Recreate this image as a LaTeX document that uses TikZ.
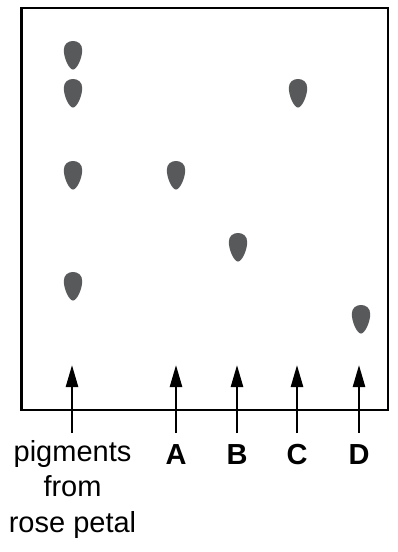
\documentclass[tikz,border=0pt]{standalone}
\usepackage{fontspec}
\setmainfont{Liberation Sans}
\usetikzlibrary{arrows.meta}
\definecolor{spotgray}{HTML}{58595B}
\tikzset{
  frame/.style={line width=2.5pt, draw=black},
  runarrow/.style={line width=2.5pt, -{Triangle[length=22pt,width=12pt]}},
  lbl/.style={font=\fontsize{29}{35.5}\selectfont, inner sep=0pt, anchor=base},
  bl/.style={lbl, font=\fontsize{29}{35.5}\selectfont\bfseries},
  spot/.pic={\fill[spotgray] (0,28.5) .. controls (-4,28.5) and (-9.2,17) .. (-9.2,9) .. controls (-9.2,3) and (-5,0) .. (0,0) .. controls (5,0) and (9.2,3) .. (9.2,9) .. controls (9.2,17) and (4,28.5) .. (0,28.5) -- cycle;}
}
\begin{document}
\begin{tikzpicture}[x=1pt,y=-1pt]
\useasboundingbox (0,0) rectangle (398,552);
\draw[frame] (21.5,8) rectangle (388,410);
% spots
\pic (s1) at (73,41) {spot};
\pic (s2) at (73,79) {spot};
\pic (s3) at (73,161) {spot};
\pic (s4) at (73,272) {spot};
\pic (sa) at (176,161) {spot};
\pic (sb) at (238,233) {spot};
\pic (sc) at (298,79) {spot};
\pic (sd) at (361,305) {spot};
% arrows
\foreach \n/\x in {p/72,a/176,b/237,c/297,d/359}{
  \coordinate (\n0) at (\x,433);
  \coordinate (\n1) at (\x,365);
  \draw[runarrow] (\n0) -- (\n1);
}
% labels
\node[lbl, align=center, anchor=north] (lp) at (72.5,440) {pigments\\from\\rose petal};
\node[bl] (la) at (176,464) {A};
\node[bl] (lb) at (237,464) {B};
\node[bl] (lc) at (297,464) {C};
\node[bl] (ld) at (359,464) {D};
\end{tikzpicture}
\end{document}
